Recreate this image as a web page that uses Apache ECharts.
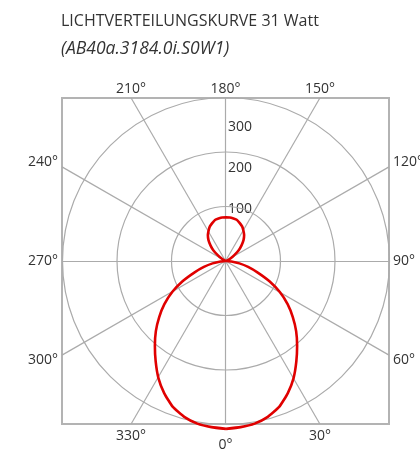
<!DOCTYPE html>
<html>
<head>
<meta charset="utf-8">
<script src="https://cdn.jsdelivr.net/npm/echarts@6/dist/echarts.min.js"></script>
<style>
  html, body { margin: 0; padding: 0; background: #fff; }
  #chart { width: 420px; height: 450px; }
</style>
</head>
<body>
<div id="chart"></div>
<script>
// angles in degrees, 0 = straight down, counting anticlockwise
var curveAngles = [0, 5, 10, 15, 20, 25, 30, 35, 40, 45, 50, 55, 60, 65, 70, 75, 80, 85, 90,
    95, 100, 105, 110, 115, 120, 125, 130, 135, 140, 145, 150, 155, 160, 165, 170, 175, 180,
    185, 190, 195, 200, 205, 210, 215, 220, 225, 230, 235, 240, 245, 250, 255, 260, 265, 270,
    275, 280, 285, 290, 295, 300, 305, 310, 315, 320, 325, 330, 335, 340, 345, 350, 355, 360];
// candela values
var curveValues = [308, 306, 303, 296, 285, 268, 248, 225, 203, 182, 160, 138, 114, 88, 62, 42, 25, 10, 0,
    0, 0, 0, 2, 5, 10, 18, 30, 40, 50, 58, 64, 70, 74, 78, 79, 80, 80,
    80, 79, 78, 74, 70, 64, 58, 50, 40, 30, 18, 10, 5, 2, 0, 0, 0, 0,
    10, 25, 42, 62, 88, 114, 138, 160, 182, 203, 225, 248, 268, 285, 296, 303, 306, 308];

var spokeAngles = [0, 30, 60, 90, 120, 150, 180, 210, 240, 270, 300, 330];
var spokeLabels = ['0°', '30°', '60°', '90°', '120°', '150°', '180°', '210°', '240°', '270°', '300°', '330°'];
var ringLabels = ['100', '200', '300'];
var rMax = 300;   // outer ring
var rAxisMax = 330; // a little room so the curve can run past the outer ring

var gridColor = '#ababab';
var textColor = '#333333';
var font = 'Open Sans';

// end of each spoke on the square frame (data units of the cartesian grid)
function spokeEnd(a) {
    var s = Math.sin(a * Math.PI / 180), c = Math.cos(a * Math.PI / 180);
    var t = rMax / Math.max(Math.abs(s), Math.abs(c));
    return [Math.round(s * t * 1000) / 1000, Math.round(-c * t * 1000) / 1000];
}

var spokeLines = [];
var labelPoints = [];
for (var i = 0; i < spokeAngles.length; i++) {
    var e = spokeEnd(spokeAngles[i]);
    spokeLines.push([{coord: [0, 0]}, {coord: e}]);
    var pos, off = [0, 0], dist = 4;
    if (Math.abs(e[1]) >= rMax - 0.01) {
        pos = e[1] > 0 ? 'top' : 'bottom';
        dist = e[1] > 0 ? 2 : 5;
        if (spokeAngles[i] == 0) off = [0, 9];
    } else {
        pos = e[0] > 0 ? 'right' : 'left';
        if (e[1] > 1) off = [0, -5];
        if (e[1] < -1) off = [0, 5];
    }
    labelPoints.push({
        value: e,
        label: {
            show: true, position: pos, distance: dist, offset: off,
            color: textColor, fontSize: 14, fontFamily: font,
            formatter: spokeLabels[i]
        }
    });
}

var curveData = [];
for (var j = 0; j < curveAngles.length; j++) {
    curveData.push([curveValues[j], curveAngles[j]]);
}

var ringText = [];
for (var k = 0; k < ringLabels.length; k++) {
    ringText.push({
        type: 'text',
        left: 228,
        top: 202 - k * 41,
        style: {text: ringLabels[k], fill: textColor, font: '14px "' + font + '"'}
    });
}

var chartDom = document.getElementById('chart');
var myChart = echarts.init(chartDom);
var option = {
    animation: false,
    textStyle: {fontFamily: font},
    title: {
        text: 'LICHTVERTEILUNGSKURVE 31 Watt',
        subtext: '(AB40a.3184.0i.S0W1)',
        left: 56,
        top: 8,
        itemGap: 11,
        textStyle: {fontSize: 16, fontWeight: 'normal', color: textColor, fontFamily: font},
        subtextStyle: {fontSize: 17.5, fontStyle: 'italic', color: textColor, fontFamily: font}
    },
    grid: {
        left: 62, top: 98, width: 327, height: 326,
        show: true, borderColor: '#b3b3b3', borderWidth: 2, backgroundColor: 'transparent'
    },
    xAxis: {type: 'value', min: -rMax, max: rMax, show: false},
    yAxis: {type: 'value', min: -rMax, max: rMax, show: false},
    polar: {center: [226, 261], radius: 163.5 * rAxisMax / rMax},
    angleAxis: {
        type: 'value', min: 0, max: 360, startAngle: 270, clockwise: false,
        axisLine: {show: false},
        axisTick: {show: false}, axisLabel: {show: false}, splitLine: {show: false}
    },
    radiusAxis: {
        type: 'value', min: 0, max: rAxisMax, interval: 100,
        axisLine: {show: false}, axisTick: {show: false}, axisLabel: {show: false},
        splitLine: {
            show: true,
            lineStyle: {color: [gridColor, gridColor, gridColor, gridColor, 'rgba(0,0,0,0)'], width: 1.2}
        }
    },
    graphic: ringText,
    series: [
        {
            name: 'spokes',
            type: 'scatter',
            xAxisIndex: 0, yAxisIndex: 0,
            symbolSize: 0,
            silent: true,
            z: 1,
            itemStyle: {opacity: 1},
            data: labelPoints,
            markLine: {
                silent: true,
                symbol: ['none', 'none'],
                label: {show: false},
                lineStyle: {color: gridColor, width: 1.2, type: 'solid'},
                data: spokeLines
            }
        },
        {
            name: 'curve',
            type: 'line',
            coordinateSystem: 'polar',
            smooth: 0.15,
            showSymbol: false,
            clip: false,
            z: 5,
            lineStyle: {color: '#e00000', width: 2.6},
            data: curveData
        }
    ]
};
option && myChart.setOption(option);
</script>
</body>
</html>
